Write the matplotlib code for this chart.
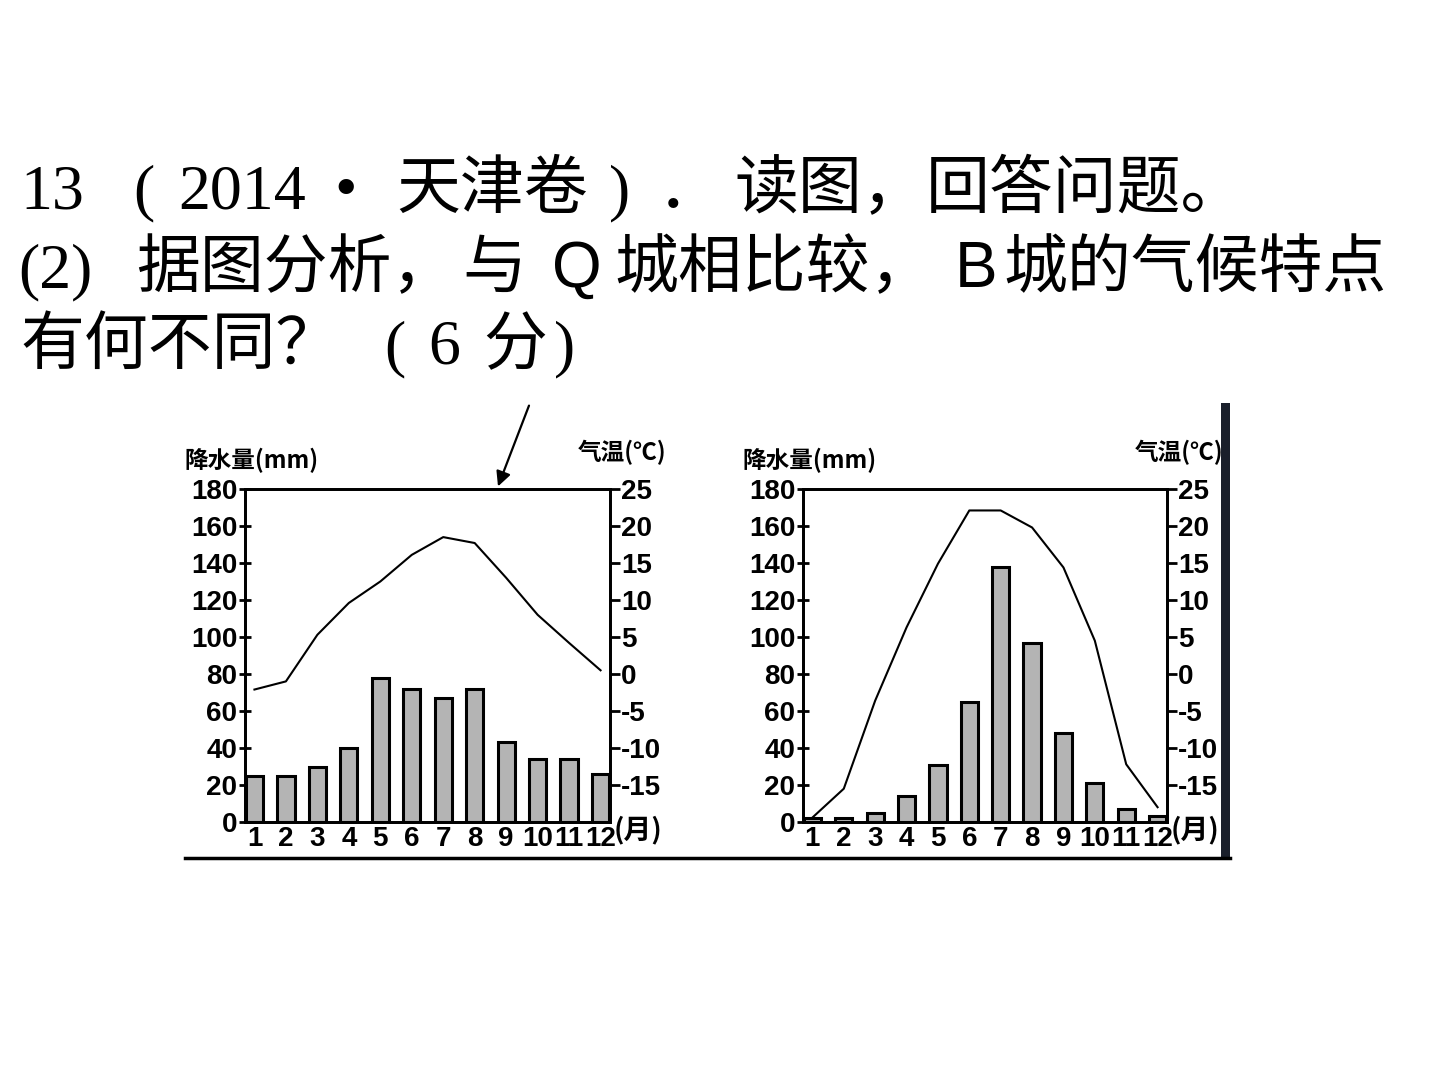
import matplotlib
matplotlib.use("Agg")
import matplotlib.pyplot as plt
from matplotlib.patches import Rectangle, FancyArrowPatch

plt.rcParams['font.family'] = ['Liberation Serif', 'Noto Sans CJK SC', 'DejaVu Sans']

months = list(range(1, 13))
month_labels = [str(m) for m in months]

# Q city (left chart)
q_precip = [25, 25, 30, 40, 78, 72, 67, 72, 43, 34, 34, 26]
q_temp = [-2.1, -1.0, 5.3, 9.6, 12.5, 16.1, 18.5, 17.7, 13.0, 8.0, 4.2, 0.5]

# B city (right chart)
b_precip = [2, 2, 5, 14, 31, 65, 138, 97, 48, 21, 7, 3]
b_temp = [-19.4, -15.5, -3.6, 6.3, 14.9, 22.1, 22.1, 19.8, 14.4, 4.5, -12.2, -18.0]

precip_ticks = [0, 20, 40, 60, 80, 100, 120, 140, 160, 180]
temp_ticks = [25, 20, 15, 10, 5, 0, -5, -10, -15]

title_line1_parts = ["13", "(", "2014", "•", "天津卷", ")", "．", "读图，", "回答问题。"]
title_line2_parts = ["(2)", "据图分析，", "与", "Q", "城相比较，", "B", "城的气候特点"]
title_line3_parts = ["有何不同？", "(", "6", "分", ")"]
precip_label = "降水量(mm)"
temp_label = "气温(℃)"
month_unit = "(月)"

W, H = 1440, 1080
fig = plt.figure(figsize=(14.4, 10.8), dpi=100)
fig.patch.set_facecolor("white")

def fx(px):
    return px / W

def fy(py):
    return 1 - py / H

tick_font = dict(family=['Liberation Sans Narrow', 'Liberation Sans', 'DejaVu Sans'],
                 weight='bold', size=20)
cjk_font = dict(family=['Noto Sans CJK SC', 'DejaVu Sans'], weight='bold', size=17)

def draw_chart(left_px, right_px, precip, temp):
    ax = fig.add_axes([fx(left_px), fy(822), (right_px - left_px) / W, (822 - 489) / H])
    ax.bar(months, precip, width=0.55, color='#b4b4b4', edgecolor='black', linewidth=2.2, zorder=2)
    ax.set_xlim(0.7, 12.3)
    ax.set_ylim(0, 180)
    ax.set_yticks(precip_ticks)
    ax.set_yticklabels([str(t) for t in precip_ticks], fontdict=tick_font)
    ax.set_xticks(months)
    ax.set_xticklabels(month_labels, fontdict=tick_font)
    ax.tick_params(axis='x', length=0, pad=3)
    ax.tick_params(axis='y', direction='inout', length=9, width=2, pad=1)
    for s in ax.spines.values():
        s.set_linewidth(2)
    ax2 = ax.twinx()
    ax2.plot(months, temp, color='black', linewidth=1.5, zorder=3)
    ax2.set_ylim(-20, 25)
    ax2.set_yticks(temp_ticks)
    ax2.set_yticklabels([str(t) for t in temp_ticks], fontdict=tick_font)
    ax2.tick_params(axis='y', direction='out', length=7, width=2, pad=1)
    for s in ax2.spines.values():
        s.set_linewidth(2)
    # axis titles
    fig.text(fx(left_px - 61), fy(460), precip_label, ha='left', va='center', **cjk_font)
    fig.text(fx(right_px + 56), fy(452), temp_label, ha='right', va='center', **cjk_font)
    fig.text(fx(right_px + 4), fy(830), month_unit, ha='left', va='center',
             family=['Noto Sans CJK SC', 'DejaVu Sans'], weight='bold', size=20)
    return ax, ax2

axL, axL2 = draw_chart(245, 610, q_precip, q_temp)
axR, axR2 = draw_chart(803, 1167, b_precip, b_temp)

# arrow pointing to the top of the left chart
fig.add_artist(FancyArrowPatch(
    (fx(530), fy(403)), (fx(497), fy(489)), transform=fig.transFigure,
    arrowstyle='-|>', mutation_scale=22, color='black', linewidth=1.6))

# bottom rule and dark edge on the right
fig.add_artist(plt.Line2D([fx(185), fx(1230)], [fy(858), fy(858)], color='black',
                          linewidth=2.5, transform=fig.transFigure))
fig.add_artist(Rectangle((fx(1221), fy(860)), 9 / W, (860 - 403) / H,
                         transform=fig.transFigure, color='#1a1f2b', linewidth=0))

# title text, pieces placed where they sit in the reference
def place(parts, xs, baseline):
    for part, x in zip(parts, xs):
        if part in ("Q", "B"):
            fam = ['Liberation Sans', 'DejaVu Sans']
        else:
            fam = ['Liberation Serif', 'Noto Sans CJK SC', 'DejaVu Sans']
        fig.text(fx(x), fy(baseline), part, fontsize=46, va='baseline', ha='left', family=fam)

place(title_line1_parts, [20, 133, 178, 334, 396, 609, 658, 734, 926], 208)
place(title_line2_parts, [18, 136, 462, 552, 614, 955, 1003], 287)
place(title_line3_parts, [20, 384, 428, 483, 554], 364)

fig.savefig("out.png", dpi=100, facecolor="white")
